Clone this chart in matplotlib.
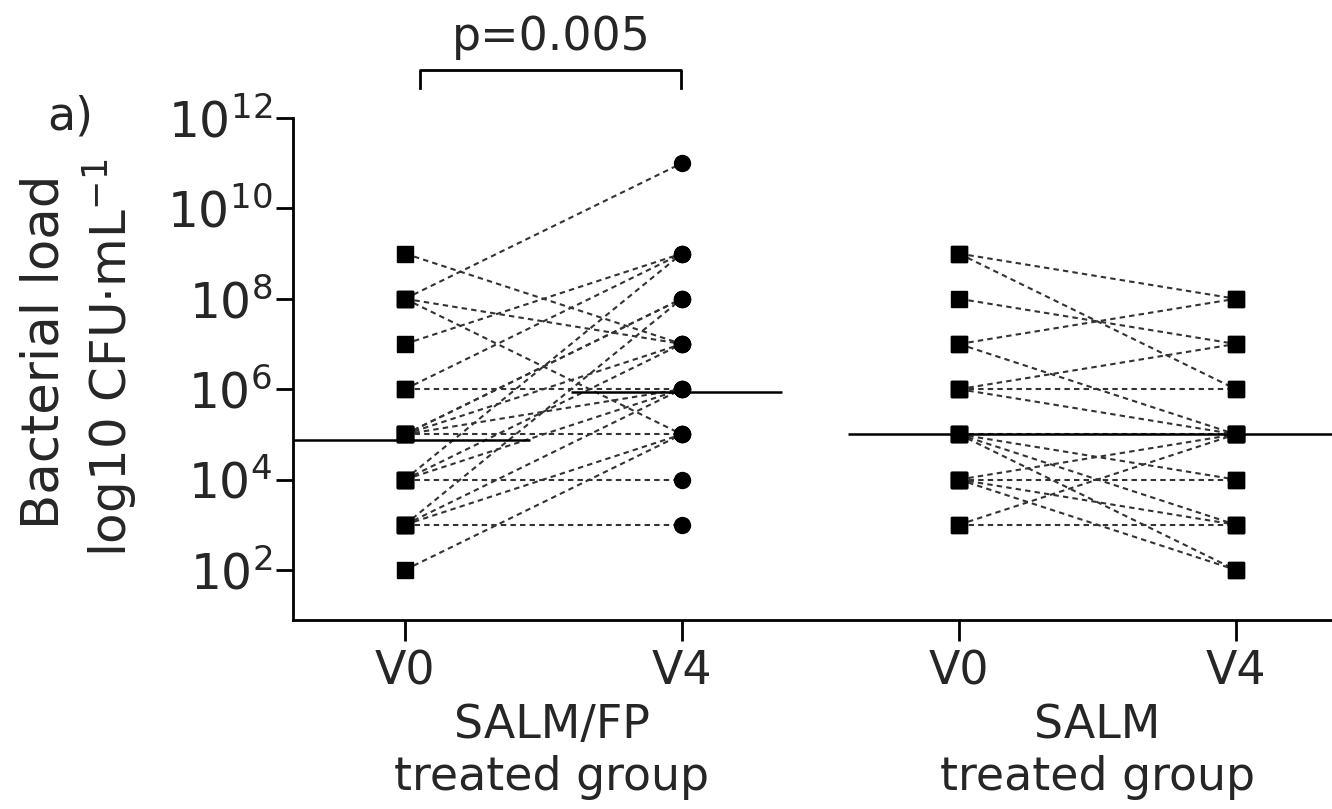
import matplotlib
matplotlib.use("Agg")
import matplotlib.pyplot as plt
import matplotlib.transforms as mtransforms
from matplotlib.ticker import FixedLocator, NullLocator, LogFormatterSciNotation

# ---------------- data ----------------
tick_labels = ["V0", "V4", "V0", "V4"]
group_names = ["SALM/FP\ntreated group", "SALM\ntreated group"]

# SALM/FP treated group (paired V0 -> V4), CFU/mL
salmfp_v0 = [1e9, 1e8, 1e8, 1e8, 1e7, 1e6, 1e6, 1e5, 1e5, 1e5, 1e5, 1e5,
             1e4, 1e4, 1e4, 1e4, 1e3, 1e3, 1e3, 1e3, 1e2]
salmfp_v4 = [1e7, 1e11, 1e7, 1e5, 1e9, 1e9, 1e6, 1e8, 1e8, 1e6, 1e5, 1e7,
             1e9, 1e7, 1e6, 1e4, 1e8, 1e6, 1e5, 1e3, 1e5]

# SALM treated group (paired V0 -> V4), CFU/mL
salm_v0 = [1e9, 1e9, 1e8, 1e7, 1e7, 1e6, 1e6, 1e6, 1e5, 1e5, 1e5, 1e5,
           1e4, 1e4, 1e4, 1e4, 1e3, 1e3]
salm_v4 = [1e8, 1e6, 1e7, 1e8, 1e5, 1e7, 1e6, 1e5, 1e5, 1e2, 1e4, 1e3,
           1e4, 1e5, 1e3, 1e2, 1e3, 1e5]

# medians as drawn (V0, V4)
salmfp_median = [7.4e4, 8.5e5]
salm_median = [1e5, 1e5]

p_text = "p=0.005"
y_ticks = [1e2, 1e4, 1e6, 1e8, 1e10, 1e12]

# ---------------- figure ----------------
plt.rcParams["font.family"] = ["DejaVu Sans"]
TXT = "#262626"

fig = plt.figure(figsize=(13.32, 8.09), dpi=100)
ax = fig.add_axes([293 / 1332, 1 - 620 / 809, (1332 - 293) / 1332, (620 - 118) / 809])

ax.set_yscale("log")
ax.set_ylim(7.8, 1e12)
ax.set_xlim(-0.404, 3.347)

line_kw = dict(color="#333333", lw=1.5, ls=(0, (2.6, 2.0)), zorder=2)

for a, b in zip(salmfp_v0, salmfp_v4):
    ax.plot([0, 1], [a, b], **line_kw)
for a, b in zip(salm_v0, salm_v4):
    ax.plot([2, 3], [a, b], **line_kw)

ms = 11.5
ax.plot([0] * len(salmfp_v0), salmfp_v0, ls="none", marker="s", ms=ms, color="black", zorder=4)
ax.plot([1] * len(salmfp_v4), salmfp_v4, ls="none", marker="o", ms=ms, color="black", zorder=4)
ax.plot([2] * len(salm_v0), salm_v0, ls="none", marker="s", ms=ms, color="black", zorder=4)
ax.plot([3] * len(salm_v4), salm_v4, ls="none", marker="s", ms=ms, color="black", zorder=4)

# median lines
ax.hlines(salmfp_median[0], -0.45, 0.45, color="black", lw=1.8, zorder=3)
ax.hlines(salmfp_median[1], 0.6, 1.36, color="black", lw=1.8, zorder=3)
ax.hlines(salm_median[0], 1.6, 2.5, color="black", lw=1.8, zorder=3)
ax.hlines(salm_median[1], 2.5, 3.4, color="black", lw=1.8, zorder=3)

# axes styling
for s in ["top", "right"]:
    ax.spines[s].set_visible(False)
ax.spines["left"].set_linewidth(2)
ax.spines["bottom"].set_linewidth(2)
ax.yaxis.set_major_locator(FixedLocator(y_ticks))
ax.yaxis.set_minor_locator(NullLocator())
ax.yaxis.set_major_formatter(LogFormatterSciNotation())
ax.set_xticks([0, 1, 2, 3])
ax.set_xticklabels(tick_labels)
ax.tick_params(axis="y", length=12, width=2, labelsize=35, pad=3)
ax.tick_params(axis="x", length=15, width=2, labelsize=33, pad=6)
ax.tick_params(colors="black", which="both", labelcolor=TXT)

# group labels
bt = mtransforms.blended_transform_factory(ax.transData, fig.transFigure)
for x, name in zip([0.53, 2.5], group_names):
    ax.text(x, 1 - 752 / 809, name, transform=bt, ha="center", va="center",
            fontsize=33, color=TXT, linespacing=1.2)

# p-value bracket
yb = 1 - 70 / 809
ye = 1 - 88 / 809
ax.plot([0.055, 0.055, 0.995, 0.995], [ye, yb, yb, ye], transform=bt,
        color="black", lw=2, clip_on=False)
ax.text(0.53, 1 - 37 / 809, p_text, transform=bt, ha="center", va="center",
        fontsize=33, color=TXT)

# y label (two lines)
fig.text(45 / 1332, 1 - 352 / 809, "Bacterial load", rotation=90, ha="center", va="center",
         fontsize=37, color=TXT)
fig.text(110 / 1332, 1 - 358 / 809, "log10 CFU·mL$^{-1}$", rotation=90, ha="center", va="center",
         fontsize=36, color=TXT)

# panel label
fig.text(70 / 1332, 1 - 117 / 809, "a)", ha="center", va="center", fontsize=33, color=TXT)

fig.savefig("out.png", dpi=100)
